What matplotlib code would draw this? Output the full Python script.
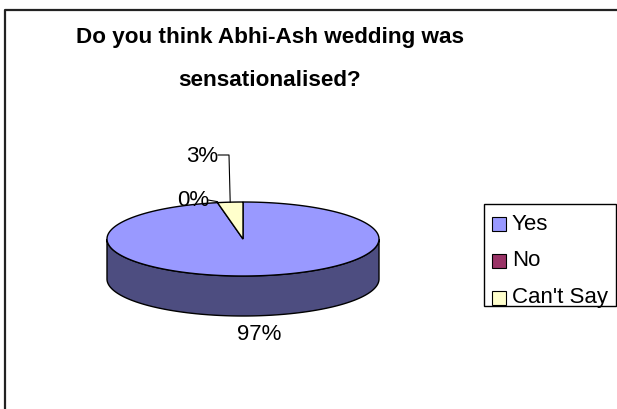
import numpy as np
import matplotlib; matplotlib.use("Agg")
import matplotlib.pyplot as plt
from matplotlib.patches import Polygon, Rectangle

# data
labels = ["Yes", "No", "Can't Say"]
values = [97, 0, 3]
pct_labels = ["97%", "0%", "3%"]
top_colors = ["#9999FF", "#993366", "#FFFFCC"]
side_colors = ["#4D4D80", "#4D1A33", "#808066"]
title_lines = ["Do you think Abhi-Ash wedding was", "sensationalised?"]

plt.rcParams["font.family"] = ["Liberation Sans", "DejaVu Sans"]

W, H = 617, 409
fig = plt.figure(figsize=(W/100, H/100), dpi=100)
ax = fig.add_axes([0, 0, 1, 1])
ax.set_xlim(0, W); ax.set_ylim(H, 0); ax.axis("off")

# outer border (left + top visible)
ax.plot([5, 5, W], [H, 10, 10], color="#222222", lw=1.6, solid_capstyle="butt")

for k, line in enumerate(title_lines):
    ax.text(270, 38 + 42*k, line, ha="center", va="center", fontsize=16.2,
            fontweight="bold")

# 3d pie geometry (pixel space)
cx, cy, rx, ry, depth = 243, 239, 136, 37, 40

def pt(t):
    # t in degrees, clockwise from 12 o'clock
    r = np.radians(t)
    return cx + rx*np.sin(r), cy - ry*np.cos(r)

total = float(sum(values))
bounds = np.concatenate([[0], np.cumsum(values)]) / total * 360.0

# sides (front half only: 90..270 deg)
for i in range(len(values)):
    a0, a1 = bounds[i], bounds[i+1]
    s0, s1 = max(a0, 90), min(a1, 270)
    if s1 <= s0:
        continue
    ts = np.linspace(s0, s1, 200)
    xs, ys = pt(ts)
    poly = np.vstack([np.column_stack([xs, ys]),
                      np.column_stack([xs[::-1], ys[::-1] + depth])])
    ax.add_patch(Polygon(poly, closed=True, fc=side_colors[i], ec="black", lw=1.0))

# top faces
for i in range(len(values)):
    a0, a1 = bounds[i], bounds[i+1]
    if a1 - a0 <= 0:
        continue
    ts = np.linspace(a0, a1, 300)
    xs, ys = pt(ts)
    poly = np.vstack([[cx, cy], np.column_stack([xs, ys])])
    ax.add_patch(Polygon(poly, closed=True, fc=top_colors[i], ec="black", lw=1.0))

# data labels
fs_lab = 16
# Yes: below the pie
ax.text(259, 335, pct_labels[0], ha="center", va="center", fontsize=fs_lab)
# No: leader to slice boundary
nx, ny = pt(bounds[1])
ax.plot([208, nx], [200, ny - 1], color="black", lw=0.8)
ax.text(193, 200, pct_labels[1], ha="center", va="center", fontsize=fs_lab)
# Can't Say: leader to mid-arc
mx, my = pt((bounds[2] + bounds[3]) / 2)
ax.plot([218, 229, mx], [155, 155, my], color="black", lw=0.8)
ax.text(202, 156, pct_labels[2], ha="center", va="center", fontsize=fs_lab)

# legend
ax.add_patch(Rectangle((484, 204), 132, 102, fc="white", ec="black", lw=1.0))
for i, lab in enumerate(labels):
    y = 224 + i*37
    ax.add_patch(Rectangle((492, y - 7), 14, 14, fc=top_colors[i], ec="black", lw=0.8))
    ax.text(512, y, lab, ha="left", va="center", fontsize=16)

fig.savefig("out.png", dpi=100)
